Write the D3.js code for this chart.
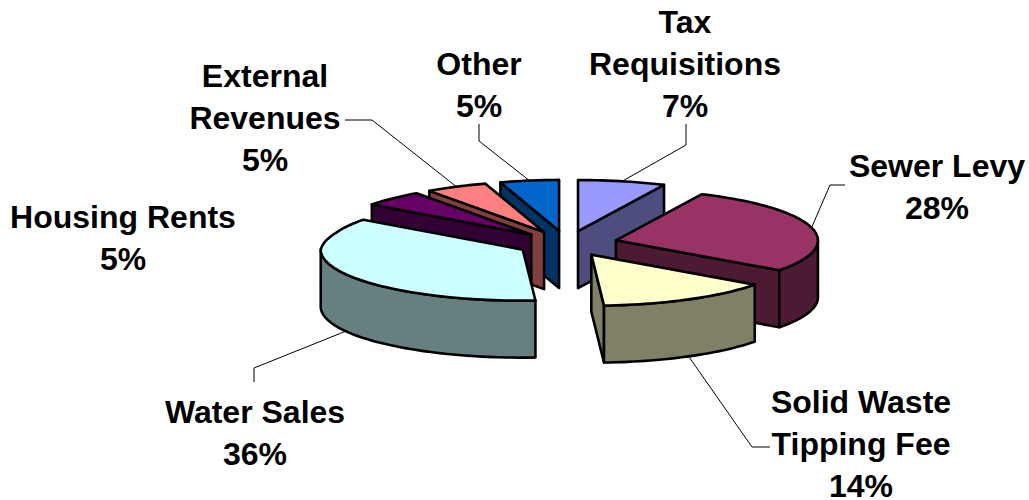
<!DOCTYPE html>
<html>
<head>
<meta charset="utf-8">
<style>
  html, body { margin: 0; padding: 0; background: #fff; }
  text { font-family: "Liberation Sans", Arial, sans-serif; font-weight: bold; font-size: 32px; fill: #000; text-anchor: middle; }
</style>
<script src="https://cdn.jsdelivr.net/npm/d3@7/dist/d3.min.js"></script>
</head>
<body>
<svg id="chart" width="1029" height="500"></svg>
<script>
// Share of revenue by source, clockwise from twelve o'clock.
const categories = ["Tax Requisitions", "Sewer Levy", "Solid Waste Tipping Fee", "Water Sales", "Housing Rents", "External Revenues", "Other"];
const values = [7, 28, 14, 36, 5, 5, 5];
const topColors = ["#9999FF", "#993366", "#FFFFCC", "#CCFFFF", "#660066", "#FF8080", "#0066CC"];
const wallColors = ["#4D4D80", "#4D1A33", "#808066", "#668080", "#330033", "#804040", "#003366"];

// Label text broken into lines, centred on x with the first baseline at y.
const labelLines = [
  ["Tax", "Requisitions", "7%"],
  ["Sewer Levy", "28%"],
  ["Solid Waste", "Tipping Fee", "14%"],
  ["Water Sales", "36%"],
  ["Housing Rents", "5%"],
  ["External", "Revenues", "5%"],
  ["Other", "5%"]
];
const labelAnchors = [[685, 33], [937, 177], [861, 413], [255, 423], [123, 228], [265, 87], [479, 75]];
// Elbow points of each leader line, running outward from the slice rim.
const leaderElbows = [
  [[686, 145], [686, 124]],
  [[830, 185], [845, 185]],
  [[752, 447], [770, 447]],
  [[254, 368], [254, 382]],
  null,
  [[372, 120], [345, 120]],
  [[479, 141], [479, 124]]
];

const cx = 567, cy = 243.5, rx = 202, ry = 51, depth = 57, explode = 0.25;
// The far-left quarter of the rim draws in slightly toward the middle.
const farLeftInset = 4;

const x = d3.scaleLinear().domain([-1, 1]).range([cx - rx, cx + rx]);
const y = d3.scaleLinear().domain([-1, 1]).range([cy - ry, cy + ry]);

const svg = d3.select("#chart");
const arcs = d3.pie().sort(null).value(d => d)(values);

// Point on the disc of a slice, moved outward along the slice's middle angle.
function project(slice, angle, radius, drop) {
  const mid = (slice.startAngle + slice.endAngle) / 2;
  const ux = explode * Math.sin(mid) + radius * Math.sin(angle);
  const uy = -explode * Math.cos(mid) - radius * Math.cos(angle);
  const inset = radius * farLeftInset
    * Math.min(1, Math.max(0, -Math.sin(angle) * 3))
    * Math.min(1, Math.max(0, Math.cos(angle) * 3));
  return [x(ux) + inset, y(uy) + drop];
}

const line = d3.line().curve(d3.curveLinearClosed);
const arcAngles = (a0, a1) => {
  const n = Math.max(2, Math.ceil((a1 - a0) / 0.03));
  return d3.range(n + 1).map(i => a0 + (a1 - a0) * i / n);
};

function radialWall(slice, angle) {
  return line([
    project(slice, 0, 0, 0),
    project(slice, angle, 1, 0),
    project(slice, angle, 1, depth),
    project(slice, 0, 0, depth)
  ]);
}

function rimWall(slice) {
  const a0 = Math.max(slice.startAngle, Math.PI / 2);
  const a1 = Math.min(slice.endAngle, 3 * Math.PI / 2);
  if (a1 <= a0) return null;
  const angles = arcAngles(a0, a1);
  return line([
    ...angles.map(a => project(slice, a, 1, 0)),
    ...angles.slice().reverse().map(a => project(slice, a, 1, depth))
  ]);
}

function topFace(slice) {
  return line([
    project(slice, 0, 0, 0),
    ...arcAngles(slice.startAngle, slice.endAngle).map(a => project(slice, a, 1, 0))
  ]);
}

// Leaders sit underneath the slices.
const leaders = svg.append("g").attr("fill", "none").attr("stroke", "#000").attr("stroke-width", 1);
arcs.forEach((slice, i) => {
  if (!leaderElbows[i]) return;
  const mid = (slice.startAngle + slice.endAngle) / 2;
  const front = Math.cos(mid) < 0;
  leaders.append("path").attr("d", d3.line()([
    project(slice, mid, 1, front ? depth : 0),
    ...leaderElbows[i]
  ]));
});

// Back-to-front painting order of the separated slices.
const paintOrder = [6, 5, 4, 3, 0, 1, 2];
const pieGroup = svg.append("g").attr("stroke", "#000").attr("stroke-width", 2.6).attr("stroke-linejoin", "round");
paintOrder.forEach(i => {
  const slice = arcs[i];
  const g = pieGroup.append("g");
  // A cut face is drawn only when it turns toward the viewer.
  if (Math.sin(slice.startAngle) < -1e-6) g.append("path").attr("d", radialWall(slice, slice.startAngle)).attr("fill", wallColors[i]);
  if (Math.sin(slice.endAngle) > 1e-6) g.append("path").attr("d", radialWall(slice, slice.endAngle)).attr("fill", wallColors[i]);
  const rim = rimWall(slice);
  if (rim) g.append("path").attr("d", rim).attr("fill", wallColors[i]);
  g.append("path").attr("d", topFace(slice)).attr("fill", topColors[i]);
});

const labels = svg.append("g");
labelLines.forEach((lines, i) => {
  const t = labels.append("text").attr("x", labelAnchors[i][0]).attr("y", labelAnchors[i][1]);
  lines.forEach((s, j) => t.append("tspan").attr("x", labelAnchors[i][0]).attr("dy", j ? 42 : 0).text(s));
});
</script>
</body>
</html>
